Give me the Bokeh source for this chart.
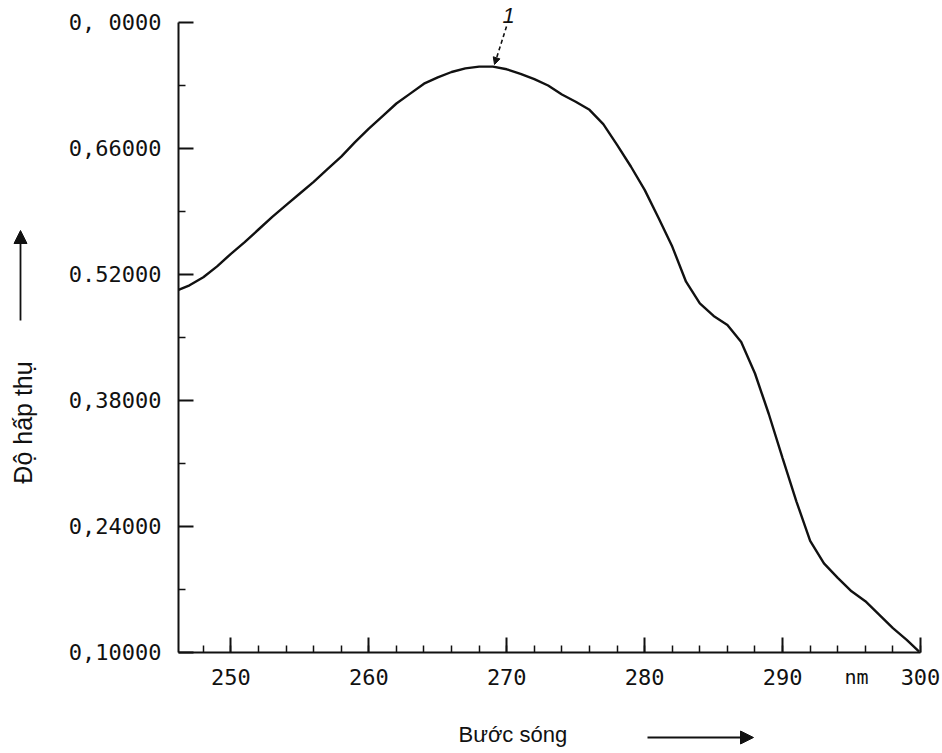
import math
from bokeh.plotting import figure
from bokeh.models import FixedTicker, Label, Arrow, NormalHead, Range1d
from bokeh.embed import file_html
from bokeh.resources import INLINE

# ---- data ----
wavelength = [246.2, 247, 248, 249, 250, 251, 252, 253, 254, 255, 256, 257, 258, 259,
              260, 261, 262, 263, 264, 265, 266, 267, 268, 269, 270, 271, 272, 273,
              274, 275, 276, 277, 278, 279, 280, 281, 282, 283, 284, 285, 286, 287,
              288, 289, 290, 291, 292, 293, 294, 295, 296, 297, 298, 299, 299.9]
absorbance = [0.503, 0.508, 0.517, 0.529, 0.543, 0.556, 0.570, 0.584, 0.597, 0.610,
              0.623, 0.637, 0.651, 0.667, 0.682, 0.696, 0.710, 0.721, 0.732, 0.739,
              0.745, 0.749, 0.751, 0.751, 0.748, 0.743, 0.737, 0.730, 0.720, 0.712,
              0.703, 0.687, 0.664, 0.640, 0.614, 0.583, 0.551, 0.512, 0.488, 0.474,
              0.464, 0.445, 0.410, 0.365, 0.316, 0.268, 0.224, 0.199, 0.183, 0.168,
              0.157, 0.142, 0.127, 0.114, 0.101]

x_ticks = [250, 260, 270, 280, 290, 300]
x_tick_labels = ["250", "260", "270", "280", "290", "300"]
y_ticks = [0.10, 0.24, 0.38, 0.52, 0.66, 0.80]
y_tick_labels = ["0,10000", "0,24000", "0,38000", "0.52000", "0,66000", "0, 0000"]
x_title = "Bước sóng"
y_title = "Độ hấp thụ"
unit_text = "nm"
curve_tag = "1"

X_MIN, X_MAX = 246.2, 300.0
Y_MIN, Y_MAX = 0.10, 0.80

INK = "#111111"
MONO = "DejaVu Sans Mono"
SANS = "Liberation Sans"

# ---- layout: the frame covers the whole canvas, axes sit at fixed places ----
W, H = 940, 753
AX_L, AX_R, AX_T, AX_B = 178, 920, 22, 652   # pixel box of the axes
sx = (X_MAX - X_MIN) / (AX_R - AX_L)
sy = (Y_MAX - Y_MIN) / (AX_B - AX_T)


def dx(px):
    return X_MIN + (px - AX_L) * sx


def dy(py):
    return Y_MIN + (AX_B - py) * sy


p = figure(width=W, height=H,
           x_range=Range1d(dx(0), dx(W)), y_range=Range1d(dy(H), dy(0)),
           output_backend="svg", toolbar_location=None, min_border=0)
p.outline_line_color = None
p.grid.visible = False
p.background_fill_color = "white"
p.border_fill_color = "white"

p.line(wavelength, absorbance, line_width=2.4, line_color=INK)

x_minor = [v for v in range(248, 301, 2)]
y_minor = [(a + b) / 2 for a, b in zip(y_ticks[:-1], y_ticks[1:])]

p.xaxis.ticker = FixedTicker(ticks=x_ticks, minor_ticks=x_minor)
p.yaxis.ticker = FixedTicker(ticks=y_ticks, minor_ticks=y_minor)
p.xaxis.major_label_overrides = dict(zip(x_ticks, x_tick_labels))
p.yaxis.major_label_overrides = dict(zip(y_ticks, y_tick_labels))
p.xaxis.fixed_location = Y_MIN
p.yaxis.fixed_location = X_MIN
p.xaxis.bounds = (X_MIN, X_MAX)
p.yaxis.bounds = (Y_MIN, Y_MAX)

for ax in (p.xaxis, p.yaxis):
    ax.axis_line_width = 2
    ax.axis_line_color = INK
    ax.major_tick_in = 15
    ax.major_tick_out = 0
    ax.minor_tick_in = 7
    ax.minor_tick_out = 0
    ax.major_tick_line_width = 2
    ax.minor_tick_line_width = 1.5
    ax.major_tick_line_color = INK
    ax.minor_tick_line_color = INK
    ax.major_label_text_font = MONO
    ax.major_label_text_font_size = "22px"
    ax.major_label_text_color = INK
p.yaxis.major_label_standoff = 17
p.xaxis.major_label_standoff = 16

# unit label under the axis between 290 and 300
p.add_layout(Label(x=dx(856), y=dy(676), text=unit_text, text_align="center",
                   text_baseline="middle", text_font=MONO, text_font_size="20px",
                   text_color=INK))

# axis titles with arrows
p.add_layout(Label(x=dx(458), y=dy(734), text=x_title, text_align="left",
                   text_baseline="middle", text_font=SANS, text_font_size="22px",
                   text_color=INK))
p.add_layout(Arrow(x_start=dx(647), y_start=dy(737), x_end=dx(753), y_end=dy(737),
                   line_width=1.8, line_color=INK,
                   end=NormalHead(size=13, fill_color=INK, line_color=INK)))

p.add_layout(Label(x=dx(22), y=dy(422), text=y_title, angle=math.pi / 2,
                   text_align="center", text_baseline="middle", text_font=SANS,
                   text_font_size="25px", text_color=INK))
p.add_layout(Arrow(x_start=dx(20), y_start=dy(320), x_end=dx(20), y_end=dy(230),
                   line_width=1.8, line_color=INK,
                   end=NormalHead(size=13, fill_color=INK, line_color=INK)))

# curve tag "1" with dashed leader
p.add_layout(Label(x=dx(508), y=dy(15), text=curve_tag, text_align="center",
                   text_baseline="middle", text_font=SANS, text_font_style="italic",
                   text_font_size="22px", text_color=INK))
p.add_layout(Arrow(x_start=dx(506), y_start=dy(26), x_end=dx(494), y_end=dy(64),
                   line_width=1.6, line_color=INK, line_dash="4 3",
                   end=NormalHead(size=7, fill_color=INK, line_color=INK)))

open("out.html", "w").write(file_html(p, INLINE))
